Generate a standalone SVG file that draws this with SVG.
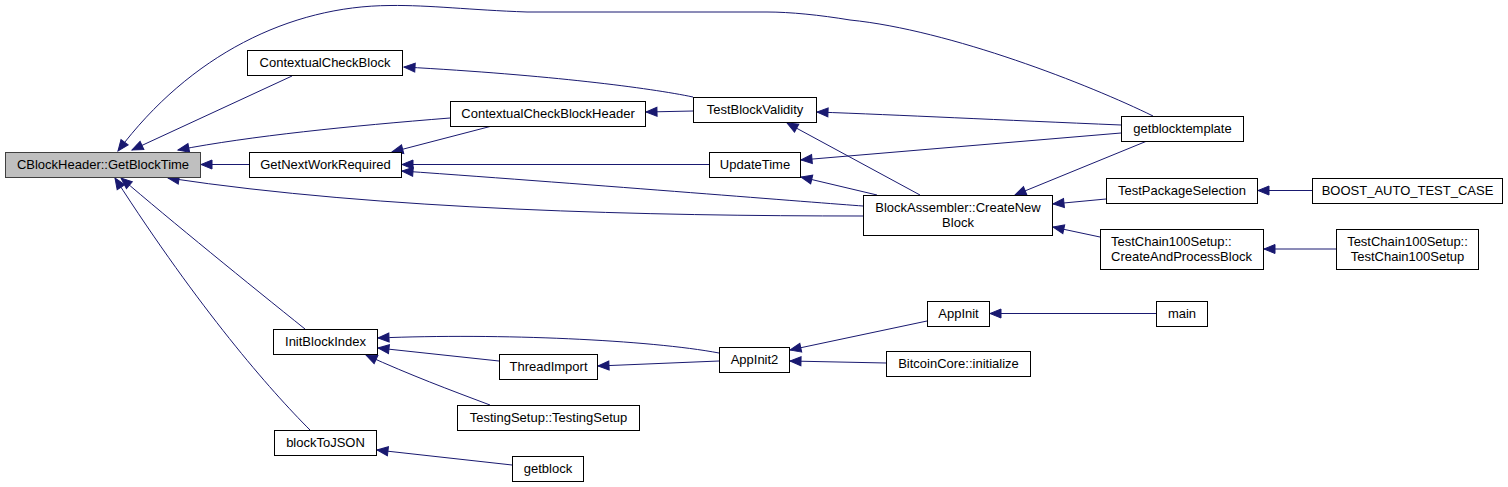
<svg xmlns="http://www.w3.org/2000/svg" width="1508" height="487" viewBox="0 0 1508 487">
<style>
.n rect{fill:#ffffff;stroke:#000000;stroke-width:1}
.n.hl rect{fill:#bfbfbf;stroke:#404040}
.n text{font-family:"Liberation Sans",Arial,sans-serif;font-size:13px;fill:#000000;text-anchor:middle}
.n text.l{text-anchor:start}
#edges path{fill:none;stroke:#191970;stroke-width:1;marker-end:url(#arr)}
</style>
<defs>
<marker id="arr" markerUnits="userSpaceOnUse" markerWidth="13" markerHeight="11" refX="11" refY="4.5" orient="auto" overflow="visible">
<path d="M0,0 L11,4.5 L0,9 z" fill="#191970" stroke="#191970" stroke-width="1"/>
</marker>
</defs>
<rect width="1508" height="487" fill="#ffffff"/>
<g id="edges">
<path d="M249,164.5 L201,164.5"/>
<path d="M292,76 L132,150"/>
<path d="M1153,116 C1090,85 950,30 850,20 C820,15 790,12 767,12 L527,12 C470,10 430,5 390,5.5 C290,6 190,55 118,151"/>
<path d="M450,118 C350,126 250,136 178,150"/>
<path d="M863,216 C650,216 380,210 168,178"/>
<path d="M305,329 C250,285 170,220 121,178"/>
<path d="M310,430 C270,390 200,310 115,178"/>
<path d="M693,97 C650,88 550,75 404,67"/>
<path d="M693,111 L646,112"/>
<path d="M492,126 L392,152"/>
<path d="M709,164.5 L402,164.5"/>
<path d="M863,206 C820,203 600,185 402,171"/>
<path d="M1121,125 C1000,120 900,115 817,112"/>
<path d="M920,195 L787,123"/>
<path d="M1121,133 L801,160"/>
<path d="M877,195 L801,177"/>
<path d="M1147,141 L1015,195"/>
<path d="M1106,199 L1053,204"/>
<path d="M1100,237 L1053,227"/>
<path d="M1312,190.5 L1258,190.5"/>
<path d="M1336,249 L1264,249"/>
<path d="M719,353 C650,340 500,333 378,338"/>
<path d="M499,361 L378,348"/>
<path d="M490,405 C450,390 410,375 366,355"/>
<path d="M719,361 L598,366"/>
<path d="M927,321 L790,350"/>
<path d="M886,363 L790,361"/>
<path d="M1156,313.5 L990,313.5"/>
<path d="M512,465 L377,450"/>
</g>
<g id="n_getblocktime" class="n hl"><rect x="5.5" y="152.5" width="195" height="25"/><text x="103" y="169">CBlockHeader::GetBlockTime</text></g>
<g id="n_ccb" class="n"><rect x="247.5" y="50.5" width="155" height="25"/><text x="325" y="67">ContextualCheckBlock</text></g>
<g id="n_gnwr" class="n"><rect x="249.5" y="152.5" width="152" height="25"/><text x="325.5" y="169">GetNextWorkRequired</text></g>
<g id="n_ccbh" class="n"><rect x="450.5" y="101.5" width="195" height="25"/><text x="548" y="118">ContextualCheckBlockHeader</text></g>
<g id="n_tbv" class="n"><rect x="693.5" y="97.5" width="123" height="25"/><text x="755" y="114">TestBlockValidity</text></g>
<g id="n_updatetime" class="n"><rect x="709.5" y="152.5" width="91" height="25"/><text x="755" y="169">UpdateTime</text></g>
<g id="n_gbtpl" class="n"><rect x="1121.5" y="116.5" width="122" height="25"/><text x="1182.5" y="133">getblocktemplate</text></g>
<g id="n_cnb" class="n"><rect x="863.5" y="195.5" width="189" height="40"/><text x="958" y="212">BlockAssembler::CreateNew</text><text x="958" y="227">Block</text></g>
<g id="n_tps" class="n"><rect x="1106.5" y="178.5" width="151" height="25"/><text x="1182" y="195">TestPackageSelection</text></g>
<g id="n_boost" class="n"><rect x="1312.5" y="178.5" width="190" height="25"/><text x="1407.5" y="195">BOOST_AUTO_TEST_CASE</text></g>
<g id="n_capb" class="n"><rect x="1100.5" y="229.5" width="163" height="40"/><text class="l" x="1111" y="246">TestChain100Setup::</text><text class="l" x="1111" y="261">CreateAndProcessBlock</text></g>
<g id="n_tc100" class="n"><rect x="1336.5" y="229.5" width="142" height="40"/><text x="1407.5" y="246">TestChain100Setup::</text><text x="1407.5" y="261">TestChain100Setup</text></g>
<g id="n_ibi" class="n"><rect x="273.5" y="329.5" width="104" height="25"/><text x="325.5" y="346">InitBlockIndex</text></g>
<g id="n_b2j" class="n"><rect x="274.5" y="430.5" width="102" height="25"/><text x="325.5" y="447">blockToJSON</text></g>
<g id="n_threadimport" class="n"><rect x="499.5" y="354.5" width="98" height="25"/><text x="548.5" y="371">ThreadImport</text></g>
<g id="n_testingsetup" class="n"><rect x="457.5" y="405.5" width="182" height="25"/><text x="548.5" y="422">TestingSetup::TestingSetup</text></g>
<g id="n_getblock" class="n"><rect x="512.5" y="456.5" width="71" height="25"/><text x="548" y="473">getblock</text></g>
<g id="n_appinit2" class="n"><rect x="719.5" y="347.5" width="70" height="25"/><text x="754.5" y="364">AppInit2</text></g>
<g id="n_appinit" class="n"><rect x="927.5" y="301.5" width="62" height="25"/><text x="958.5" y="318">AppInit</text></g>
<g id="n_bcinit" class="n"><rect x="886.5" y="351.5" width="144" height="25"/><text x="958.5" y="368">BitcoinCore::initialize</text></g>
<g id="n_main" class="n"><rect x="1156.5" y="301.5" width="51" height="25"/><text x="1182" y="318">main</text></g>
</svg>
